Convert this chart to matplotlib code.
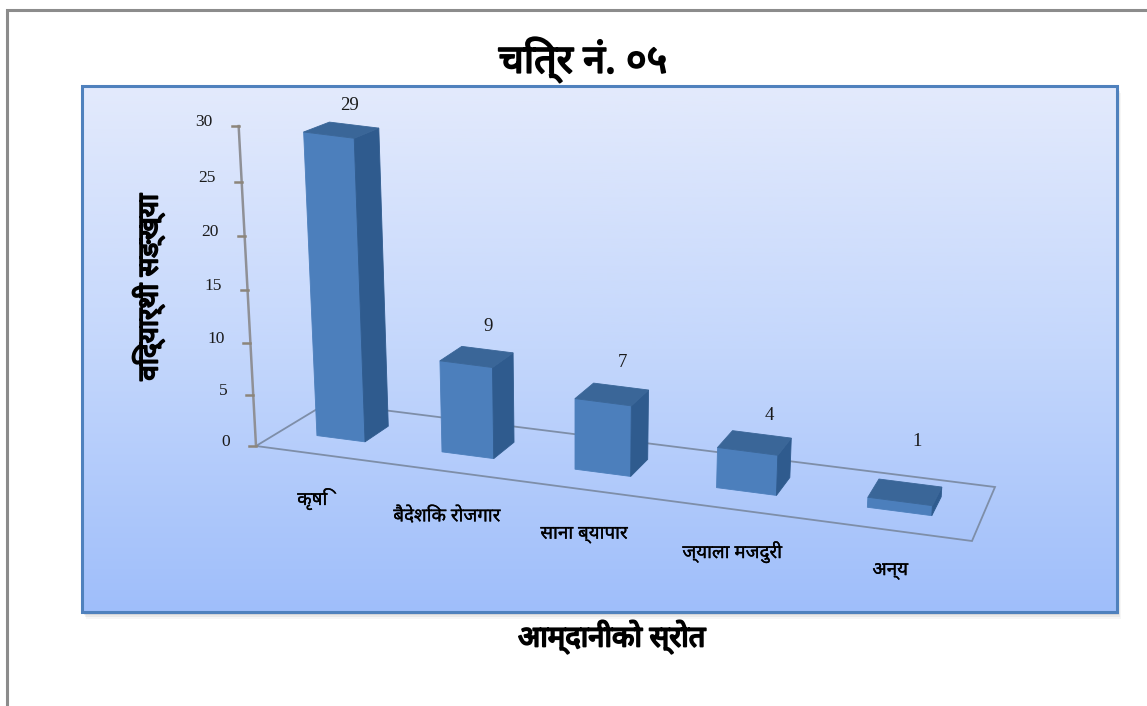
import numpy as np
import matplotlib
matplotlib.use('Agg')
import matplotlib.pyplot as plt
from matplotlib.patches import Polygon, Rectangle
from matplotlib.colors import LinearSegmentedColormap
import matplotlib.patheffects as pe

# ---- data ----
categories = ['कृषि', 'बैदेशिक रोजगार', 'साना ब्यापार', 'ज्याला मजदुरी', 'अन्य']
values = [29, 9, 7, 4, 1]
y_ticks = [0, 5, 10, 15, 20, 25, 30]
title = 'चित्र नं. ०५'
x_label = 'आम्दानीको स्रोत'
y_label = 'विद्यार्थी सङ्ख्या'

# ---- styling / layout ----
W, H_PX = 1147, 706
DEV = ['Noto Sans', 'DejaVu Sans']
NUM = 'Liberation Serif'
FRONT, TOP, SIDE = '#4C7FBC', '#3A6698', '#2F5B8E'
FLOOR_C = '#7E8EA8'
AXIS_C = '#8F9096'
value_nudge = [(-5, -20), (1, -23), (1, -24), (8, -19), (7, -42)]
label_nudge = [(-5, 45), (0, 45), (-1, 45), (0, 43), (1, 41)]

# perspective of the chart floor: unit square -> picture pixels
src = np.array([[0, 0], [1, 0], [1, 1], [0, 1]], float)
dst = np.array([[256, 446], [972, 541], [995, 487], [327, 403]], float)
A, b = [], []
for (u, v), (x, y) in zip(src, dst):
    A.append([u, v, 1, 0, 0, 0, -u * x, -v * x]); b.append(x)
    A.append([0, 0, 0, u, v, 1, -u * y, -v * y]); b.append(y)
HOM = np.append(np.linalg.solve(np.array(A), np.array(b)), 1).reshape(3, 3)


def proj(u, d, val=0.0):
    """category-axis fraction u, depth d, value val -> picture position"""
    p = HOM @ np.array([u, d, 1.0])
    x, y = p[0] / p[2], p[1] / p[2]
    h = (10.13 * val + 0.0178 * val ** 2) * (1 - 0.05 * d)
    return x + 0.00017 * (x - 575) * h, y - h


fig = plt.figure(figsize=(W / 100, H_PX / 100), dpi=100, facecolor='white')
ax = fig.add_axes([0, 0, 1, 1])
ax.set_xlim(0, W)
ax.set_ylim(H_PX, 0)
ax.axis('off')

# page border
ax.plot([7, 7, W], [H_PX, 10, 10], color='#8C8C8C', lw=2.2, solid_joinstyle='miter', zorder=1)

# chart area: shadow, gradient, frame
for k, a in zip([7, 5, 3, 1], [0.05, 0.08, 0.12, 0.18]):
    ax.add_patch(Rectangle((82 + k / 2, 86 + k), 1035, 526, fc='#555555', ec='none', alpha=a, zorder=2))
cmap = LinearSegmentedColormap.from_list('bg', [(0, '#E3EAFC'), (0.5, '#C4D7FC'), (1, '#9FBEFA')])
ax.imshow(np.linspace(0, 1, 256).reshape(-1, 1), cmap=cmap, extent=(82, 1117, 612, 86), aspect='auto', zorder=3)
ax.set_xlim(0, W)
ax.set_ylim(H_PX, 0)
ax.add_patch(Rectangle((82, 86), 1035, 526, fc='none', ec='#4F81BD', lw=2.2, zorder=4))

# floor outline
corners = [proj(0, 0), proj(1, 0), proj(1, 1), proj(0, 1)]
ax.add_patch(Polygon(corners, closed=True, fc='none', ec=FLOOR_C, lw=1.3, zorder=5))

# value axis and its ticks
top_x, top_y = proj(0, 0, y_ticks[-1])
ax.plot([proj(0, 0)[0], top_x], [proj(0, 0)[1], top_y], color=AXIS_C, lw=1.8, zorder=6)
for t in y_ticks:
    tx, ty = proj(0, 0, t)
    ax.plot([tx - 7, tx], [ty, ty], color='#8C857A', lw=1.8, zorder=6)
    ax.text(tx - 26, ty - 4, str(t), ha='right', va='center', family=NUM, fontsize=12.5, color='#1a1a1a', zorder=8)

# bars
d0, d1 = 0.335, 0.69
stroke = [pe.withStroke(linewidth=0.2, foreground='black')]
for i, (cat, val) in enumerate(zip(categories, values)):
    c = 0.093 + 0.192 * i + 0.0027 * i * (i - 1)
    bar_w = 0.074 + 0.003 * i
    u0, u1 = c - bar_w / 2, c + bar_w / 2
    z = 10 + i
    ax.add_patch(Polygon([proj(u0, d0), proj(u1, d0), proj(u1, d0, val), proj(u0, d0, val)],
                         fc=FRONT, ec=FRONT, lw=0.6, zorder=z))
    ax.add_patch(Polygon([proj(u1, d0), proj(u1, d1), proj(u1, d1, val), proj(u1, d0, val)],
                         fc=SIDE, ec=SIDE, lw=0.6, zorder=z))
    ax.add_patch(Polygon([proj(u0, d0, val), proj(u1, d0, val), proj(u1, d1, val), proj(u0, d1, val)],
                         fc=TOP, ec=TOP, lw=0.6, zorder=z))
    tx, ty = proj(c, d1, val)
    ax.text(tx + value_nudge[i][0], ty + value_nudge[i][1], str(val), ha='center', va='center',
            family=NUM, fontsize=13.5, color='#1a1a1a', zorder=20)
    lx, ly = proj(c, 0)
    ax.text(lx + label_nudge[i][0], ly + label_nudge[i][1], cat, ha='center', va='center',
            family=DEV, fontsize=13.5, color='black', zorder=20, path_effects=stroke)

# titles
heavy = [pe.withStroke(linewidth=1.3, foreground='black')]
ax.text(583, 60, title, ha='center', va='center', family=DEV, fontweight='bold', fontsize=28.5,
        color='black', zorder=20, path_effects=heavy)
ax.text(612, 637, x_label, ha='center', va='center', family=DEV, fontweight='bold', fontsize=21,
        color='black', zorder=20, path_effects=heavy)
ax.text(149, 287, y_label, ha='center', va='center', rotation=90, family=DEV, fontweight='bold', fontsize=20,
        color='black', zorder=20, path_effects=heavy)

fig.savefig('out.png', dpi=100, facecolor='white')
